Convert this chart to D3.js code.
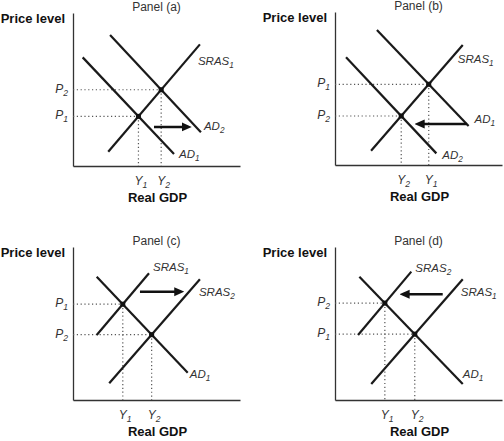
<!DOCTYPE html>
<html>
<head>
<meta charset="utf-8">
<script src="https://cdn.jsdelivr.net/npm/d3@7"></script>
<style>
  html, body { margin: 0; padding: 0; background: #fff; }
  svg { display: block; font-family: "Liberation Sans", Arial, Helvetica, sans-serif; }
</style>
</head>
<body>
<svg id="chart" width="504" height="441"></svg>
<script>
// ---------------- DATA (data-space units, 0..10 on each axis) ----------------
const panelTitles = ["Panel (a)", "Panel (b)", "Panel (c)", "Panel (d)"];
const axisTitleY = "Price level";
const axisTitleX = "Real GDP";

// curves: name, subscript, two endpoints in data units
const curvesA = [
  { id: "AD1",   name: "AD",   sub: "1", x1: 0.58, y1: 7.10, x2: 6.05, y2: 0.78 },
  { id: "AD2",   name: "AD",   sub: "2", x1: 2.22, y1: 8.56, x2: 7.66, y2: 2.20 },
  { id: "SRAS1", name: "SRAS", sub: "1", x1: 2.11, y1: 0.93, x2: 7.60, y2: 7.95 }
];
const curvesB = [
  { id: "AD1",   name: "AD",   sub: "1", x1: 2.51, y1: 8.82, x2: 8.00, y2: 2.55 },
  { id: "AD2",   name: "AD",   sub: "2", x1: 0.66, y1: 7.04, x2: 6.07, y2: 0.76 },
  { id: "SRAS1", name: "SRAS", sub: "1", x1: 2.16, y1: 0.93, x2: 7.65, y2: 7.84 }
];
const curvesC = [
  { id: "AD1",   name: "AD",   sub: "1", x1: 1.42, y1: 8.06, x2: 6.87, y2: 1.78 },
  { id: "SRAS1", name: "SRAS", sub: "1", x1: 1.42, y1: 4.25, x2: 4.55, y2: 8.28 },
  { id: "SRAS2", name: "SRAS", sub: "2", x1: 2.17, y1: 1.09, x2: 7.60, y2: 7.89 }
];
const curvesD = [
  { id: "AD1",   name: "AD",   sub: "1", x1: 1.46, y1: 8.06, x2: 7.65, y2: 1.05 },
  { id: "SRAS2", name: "SRAS", sub: "2", x1: 1.38, y1: 4.25, x2: 4.57, y2: 8.39 },
  { id: "SRAS1", name: "SRAS", sub: "1", x1: 2.17, y1: 1.05, x2: 7.65, y2: 7.89 }
];

// equilibria: intersection of two curves, with price / output subscripts
const equilibriaA = [
  { a: "AD1", b: "SRAS1", p: "1", q: "1" },
  { a: "AD2", b: "SRAS1", p: "2", q: "2" }
];
const equilibriaB = [
  { a: "AD1", b: "SRAS1", p: "1", q: "1" },
  { a: "AD2", b: "SRAS1", p: "2", q: "2" }
];
const equilibriaC = [
  { a: "AD1", b: "SRAS1", p: "1", q: "1" },
  { a: "AD1", b: "SRAS2", p: "2", q: "2" }
];
const equilibriaD = [
  { a: "AD1", b: "SRAS2", p: "2", q: "1" },
  { a: "AD1", b: "SRAS1", p: "1", q: "2" }
];

// shift arrows: from x to x at a price level (data units)
const shiftsA = { from: 4.85, to: 7.11, level: 2.55 };
const shiftsB = { from: 7.90, to: 4.77, level: 2.68 };
const shiftsC = { from: 4.01, to: 6.66, level: 7.08 };
const shiftsD = { from: 6.45, to: 3.87, level: 6.91 };

// ---------------- LAYOUT ----------------
const panelOrigins = [[73, 166], [335, 165], [73, 400], [335, 400]];
const plotW = 167, plotH = 153;
// label anchor: which end of the curve (1 or 2) and pixel offset (dx = start of text, dy = vertical centre)
const labelLayout = [
  { AD1: [2, 5, 0],  AD2: [2, 3, -6],  SRAS1: [2, -2, 17] },
  { AD1: [2, 6, -7], AD2: [2, 6, 2],   SRAS1: [2, -5, 14] },
  { AD1: [2, 2, 1],  SRAS1: [2, 4, -6], SRAS2: [2, -1, 13] },
  { AD1: [2, 0, -10], SRAS2: [2, 4, -4], SRAS1: [2, -2, 13] }
];

const allCurves = [curvesA, curvesB, curvesC, curvesD];
const allEq = [equilibriaA, equilibriaB, equilibriaC, equilibriaD];
const allShifts = [shiftsA, shiftsB, shiftsC, shiftsD];

const svg = d3.select("#chart");

svg.append("defs").append("marker")
  .attr("id", "arrowhead")
  .attr("viewBox", "0 0 10 10")
  .attr("refX", 10).attr("refY", 5)
  .attr("markerUnits", "userSpaceOnUse")
  .attr("markerWidth", 10).attr("markerHeight", 10)
  .attr("orient", "auto")
  .append("path").attr("d", "M0,0.5 L10,5 L0,9.5 Z").attr("fill", "#111");

function intersect(c1, c2) {
  const m1 = (c1.y2 - c1.y1) / (c1.x2 - c1.x1);
  const m2 = (c2.y2 - c2.y1) / (c2.x2 - c2.x1);
  const x = (c2.y1 - c1.y1 + m1 * c1.x1 - m2 * c2.x1) / (m1 - m2);
  return { x, y: c1.y1 + m1 * (x - c1.x1) };
}

function subText(sel, main, sub, italic, size) {
  sel.attr("font-style", italic ? "italic" : null)
     .attr("font-size", size);
  sel.append("tspan").text(main);
  sel.append("tspan").attr("font-size", size * 0.72).attr("dy", 3).text(sub);
}

allCurves.forEach((curves, i) => {
  const [ox, oy] = panelOrigins[i];
  const x = d3.scaleLinear().domain([0, 10]).range([ox, ox + plotW]);
  const y = d3.scaleLinear().domain([0, 10]).range([oy, oy - plotH]);
  const g = svg.append("g");

  // axes (domain lines only)
  g.append("g").attr("transform", `translate(${ox},0)`)
    .call(d3.axisLeft(y).ticks(0).tickSizeOuter(0))
    .call(s => s.select(".domain").attr("stroke", "#333").attr("stroke-width", 1.3));
  g.append("g").attr("transform", `translate(0,${oy})`)
    .call(d3.axisBottom(x).ticks(0).tickSizeOuter(0))
    .call(s => s.select(".domain").attr("stroke", "#333").attr("stroke-width", 1.3));

  // titles
  g.append("text").attr("x", (x(0) + x(10)) / 2).attr("y", y(10) - 2)
    .attr("text-anchor", "middle").attr("font-size", 12).attr("fill", "#333")
    .text(panelTitles[i]);
  g.append("text").attr("x", ox - 8).attr("y", y(10) + 9.5)
    .attr("text-anchor", "end").attr("font-size", 13).attr("font-weight", "bold").attr("fill", "#111")
    .text(axisTitleY);
  g.append("text").attr("x", (x(0) + x(10)) / 2 + 1).attr("y", oy + 35.5)
    .attr("text-anchor", "middle").attr("font-size", 13).attr("font-weight", "bold").attr("fill", "#111")
    .text(axisTitleX);

  const byId = {};
  curves.forEach(c => byId[c.id] = c);

  // dotted guides + P/Y labels
  allEq[i].forEach(e => {
    const pt = intersect(byId[e.a], byId[e.b]);
    g.append("line").attr("x1", x(0)).attr("x2", x(pt.x)).attr("y1", y(pt.y)).attr("y2", y(pt.y))
      .attr("stroke", "#555").attr("stroke-width", 1.2).attr("stroke-dasharray", "1.2,2.6");
    g.append("line").attr("x1", x(pt.x)).attr("x2", x(pt.x)).attr("y1", y(pt.y)).attr("y2", y(0))
      .attr("stroke", "#555").attr("stroke-width", 1.2).attr("stroke-dasharray", "1.2,2.6");
    g.append("text").attr("x", ox - 5).attr("y", y(pt.y) + 3).attr("fill", "#333")
      .attr("text-anchor", "end")
      .call(s => subText(s, "P", e.p, true, 12));
    g.append("text").attr("x", x(pt.x) - 4).attr("y", oy + 19).attr("fill", "#333")
      .call(s => subText(s, "Y", e.q, true, 12));
  });

  // curves
  g.selectAll("line.curve").data(curves).join("line").attr("class", "curve")
    .attr("x1", d => x(d.x1)).attr("y1", d => y(d.y1))
    .attr("x2", d => x(d.x2)).attr("y2", d => y(d.y2))
    .attr("stroke", "#1a1a1a").attr("stroke-width", 2.2);

  // curve labels
  curves.forEach(c => {
    const [end, dx, dy] = labelLayout[i][c.id];
    const px = end === 1 ? x(c.x1) : x(c.x2);
    const py = end === 1 ? y(c.y1) : y(c.y2);
    g.append("text").attr("x", px + dx).attr("y", py + dy + 4).attr("fill", "#333")
      .call(s => subText(s, c.name, c.sub, true, 11.5));
  });

  // equilibrium dots
  allEq[i].forEach(e => {
    const pt = intersect(byId[e.a], byId[e.b]);
    g.append("rect").attr("x", x(pt.x) - 2.5).attr("y", y(pt.y) - 2.5)
      .attr("width", 5).attr("height", 5).attr("fill", "#111");
  });

  // shift arrow
  const s = allShifts[i];
  const dir = Math.sign(s.to - s.from);
  g.append("line").attr("x1", x(s.from)).attr("x2", x(s.to) - dir * 6)
    .attr("y1", y(s.level)).attr("y2", y(s.level))
    .attr("stroke", "#111").attr("stroke-width", 2.6);
  g.append("line").attr("x1", x(s.to) - dir * 9).attr("x2", x(s.to))
    .attr("y1", y(s.level)).attr("y2", y(s.level))
    .attr("stroke", "none").attr("marker-end", "url(#arrowhead)");
});
</script>
</body>
</html>
